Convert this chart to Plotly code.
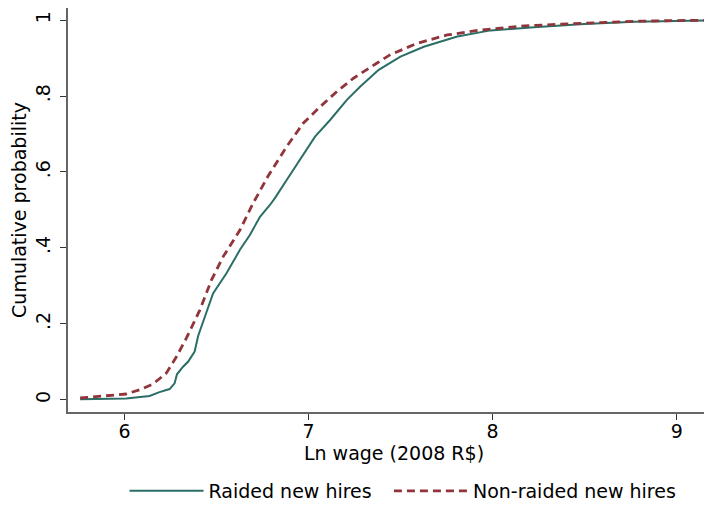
import plotly.graph_objects as go

raided_x = [5.759, 6.009, 6.136, 6.19, 6.245, 6.272, 6.285, 6.318, 6.345, 6.381, 6.40, 6.436,
            6.481, 6.554, 6.627, 6.681, 6.736, 6.79, 6.817, 6.881, 6.954, 7.035, 7.117, 7.208,
            7.281, 7.381, 7.499, 7.626, 7.808, 7.989, 8.225, 8.498, 8.77, 9.0, 9.3]
raided_y = [0.001, 0.003, 0.010, 0.020, 0.028, 0.043, 0.067, 0.087, 0.100, 0.127, 0.168, 0.219,
            0.280, 0.333, 0.395, 0.434, 0.482, 0.513, 0.531, 0.579, 0.632, 0.693, 0.737, 0.790,
            0.825, 0.869, 0.904, 0.930, 0.957, 0.973, 0.981, 0.990, 0.996, 0.998, 1.0]

# Non-raided new hires
nonraided_x = [5.759, 5.918, 6.009, 6.082, 6.154, 6.227, 6.282, 6.336, 6.409, 6.472, 6.536, 6.627,
               6.699, 6.781, 6.881, 6.972, 7.063, 7.154, 7.244, 7.372, 7.444, 7.59, 7.753, 7.935,
               8.171, 8.498, 8.77, 9.0, 9.3]
nonraided_y = [0.0045, 0.010, 0.015, 0.026, 0.041, 0.070, 0.113, 0.162, 0.236, 0.315, 0.377, 0.447,
               0.518, 0.590, 0.667, 0.729, 0.772, 0.812, 0.847, 0.887, 0.909, 0.939, 0.961, 0.974,
               0.985, 0.992, 0.997, 0.999, 1.0]

x_ticks = [6, 7, 8, 9]
y_ticks = [0, 0.2, 0.4, 0.6, 0.8, 1]
y_tick_labels = ["0", ".2", ".4", ".6", ".8", "1"]

FONT = "DejaVu Sans, Noto Sans, sans-serif"
FS = 19
TEAL = "#2a6e66"
MAROON = "#90353b"

fig = go.Figure()
fig.add_trace(go.Scatter(x=raided_x, y=raided_y, mode="lines", name="Raided new hires",
                         line=dict(color=TEAL, width=2), legend="legend"))
fig.add_trace(go.Scatter(x=nonraided_x, y=nonraided_y, mode="lines", name="Non-raided new hires",
                         line=dict(color=MAROON, width=2.8, dash="8px,5px"), legend="legend2"))

leg_common = dict(orientation="h", yanchor="middle", xanchor="left", y=-0.1955,
                  itemwidth=74, font=dict(size=FS), bgcolor="rgba(0,0,0,0)", borderwidth=0)

# the page body adds an 8px offset, so margins are shifted by -8px;
# the plot area runs off the right edge of the window as in the reference
fig.update_layout(
    width=712, height=506,
    margin=dict(l=60, r=0, t=0, b=102, autoexpand=False),
    paper_bgcolor="white", plot_bgcolor="white",
    font=dict(family=FONT, size=FS, color="black"),
    showlegend=True,
    legend=dict(x=0.0867, **leg_common),
    legend2=dict(x=0.4922, **leg_common),
    xaxis=dict(range=[5.693, 9.235], tickvals=x_ticks, ticks="outside", ticklen=6,
               tickcolor="#333", showline=True, linecolor="#666", linewidth=1.5,
               ticklabelstandoff=-5,
               showgrid=False, zeroline=False, tickfont=dict(size=FS), automargin=False,
               title=dict(text="Ln wage (2008 R$)", font=dict(size=FS), standoff=0)),
    yaxis=dict(range=[-0.0324, 1.032], tickvals=y_ticks, ticktext=y_tick_labels,
               ticks="outside", ticklen=6, tickcolor="#333", tickangle=-90,
               ticklabelstandoff=3,
               showline=True, linecolor="#666", linewidth=1.5, showgrid=False,
               zeroline=False, tickfont=dict(size=FS), automargin=False,
               title=dict(text="Cumulative probability", font=dict(size=FS), standoff=0)),
)

fig.write_html("out.html")
